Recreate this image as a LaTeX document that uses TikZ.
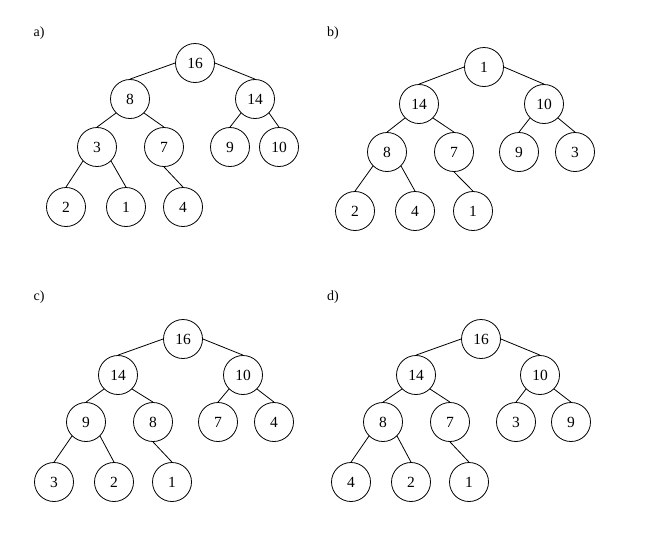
\documentclass[tikz,border=0pt]{standalone}
\usepackage{fontspec}
\setmainfont{Liberation Serif}
\begin{document}
\begin{tikzpicture}[x=1pt,y=-1pt,
  hn/.style={circle,draw,line width=0.8pt,minimum size=39pt,inner sep=0pt,font=\fontsize{15.5}{15.5}\selectfont},
  lbl/.style={font=\fontsize{14}{14}\selectfont},
  ed/.style={line width=0.8pt}]
\useasboundingbox (0,0) rectangle (655,539);
% a)
\node[lbl] (la) at (39,33) {a)};
\node[hn] (a1) at (195,63) {16};
\node[hn] (a2) at (130,99) {8};
\node[hn] (a3) at (255,99) {14};
\node[hn] (a4) at (97,147) {3};
\node[hn] (a5) at (164,147) {7};
\node[hn] (a6) at (230,147) {9};
\node[hn] (a7) at (279,147) {10};
\node[hn] (a8) at (66,207) {2};
\node[hn] (a9) at (126,207) {1};
\node[hn] (a10) at (183,207) {4};
\draw[ed] (a1.west) -- (a2.north);
\draw[ed] (a1.east) -- (a3.north);
\draw[ed] (a2.south west) -- (a4.north);
\draw[ed] (a2.south east) -- (a5.north);
\draw[ed] (a3.south west) -- (a6.north);
\draw[ed] (a3.south east) -- (a7.north);
\draw[ed] (a4.south west) -- (a8.north);
\draw[ed] (a4.south east) -- (a9.north);
\draw[ed] (a5.south) -- (a10.north);
% b)
\node[lbl] (lb) at (333,33) {b)};
\node[hn] (b1) at (484,67) {1};
\node[hn] (b2) at (419,104) {14};
\node[hn] (b3) at (544,104) {10};
\node[hn] (b4) at (387,152) {8};
\node[hn] (b5) at (454,152) {7};
\node[hn] (b6) at (519,152) {9};
\node[hn] (b7) at (575,152) {3};
\node[hn] (b8) at (355,211) {2};
\node[hn] (b9) at (415,211) {4};
\node[hn] (b10) at (473,211) {1};
\draw[ed] (b1.west) -- (b2.north);
\draw[ed] (b1.east) -- (b3.north);
\draw[ed] (b2.south west) -- (b4.north);
\draw[ed] (b2.south east) -- (b5.north);
\draw[ed] (b3.south west) -- (b6.north);
\draw[ed] (b3.south east) -- (b7.north);
\draw[ed] (b4.south west) -- (b8.north);
\draw[ed] (b4.south east) -- (b9.north);
\draw[ed] (b5.south) -- (b10.north);
% c)
\node[lbl] (lc) at (39,297) {c)};
\node[hn] (c1) at (183,339) {16};
\node[hn] (c2) at (118,375) {14};
\node[hn] (c3) at (243,375) {10};
\node[hn] (c4) at (86,422) {9};
\node[hn] (c5) at (153,422) {8};
\node[hn] (c6) at (218,422) {7};
\node[hn] (c7) at (274,422) {4};
\node[hn] (c8) at (54,482) {3};
\node[hn] (c9) at (114,482) {2};
\node[hn] (c10) at (172,482) {1};
\draw[ed] (c1.west) -- (c2.north);
\draw[ed] (c1.east) -- (c3.north);
\draw[ed] (c2.south west) -- (c4.north);
\draw[ed] (c2.south east) -- (c5.north);
\draw[ed] (c3.south west) -- (c6.north);
\draw[ed] (c3.south east) -- (c7.north);
\draw[ed] (c4.south west) -- (c8.north);
\draw[ed] (c4.south east) -- (c9.north);
\draw[ed] (c5.south) -- (c10.north);
% d)
\node[lbl] (ld) at (333,297) {d)};
\node[hn] (d1) at (481,339) {16};
\node[hn] (d2) at (416,375) {14};
\node[hn] (d3) at (540,375) {10};
\node[hn] (d4) at (383,422) {8};
\node[hn] (d5) at (450,422) {7};
\node[hn] (d6) at (516,422) {3};
\node[hn] (d7) at (571,422) {9};
\node[hn] (d8) at (351,482) {4};
\node[hn] (d9) at (411,482) {2};
\node[hn] (d10) at (469,482) {1};
\draw[ed] (d1.west) -- (d2.north);
\draw[ed] (d1.east) -- (d3.north);
\draw[ed] (d2.south west) -- (d4.north);
\draw[ed] (d2.south east) -- (d5.north);
\draw[ed] (d3.south west) -- (d6.north);
\draw[ed] (d3.south east) -- (d7.north);
\draw[ed] (d4.south west) -- (d8.north);
\draw[ed] (d4.south east) -- (d9.north);
\draw[ed] (d5.south) -- (d10.north);
\end{tikzpicture}
\end{document}
